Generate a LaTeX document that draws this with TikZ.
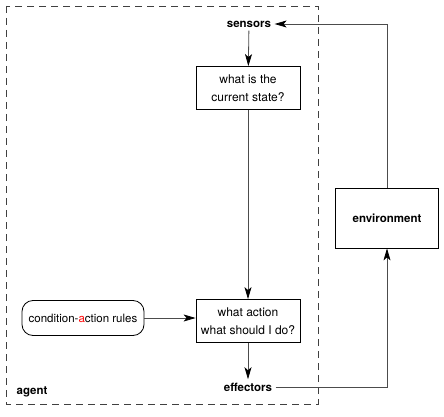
\documentclass[tikz,border=0pt]{standalone}
\usepackage{fontspec}
\setmainfont{TeX Gyre Heros}
\usetikzlibrary{arrows.meta}

\begin{document}
\begin{tikzpicture}[x=1pt, y=-1pt,
  box/.style={draw, line width=0.8pt, minimum width=104pt, minimum height=43pt, align=center, font=\fontsize{12}{18}\selectfont},
  rulebox/.style={draw, line width=0.8pt, rounded corners=11pt, minimum width=122pt, minimum height=35pt, font=\fontsize{11.5}{14}\selectfont},
  lbl/.style={font=\fontsize{11.5}{13}\selectfont\bfseries},
  arr/.style={draw=black!70, line width=0.8pt, -{Stealth[length=12pt, width=7pt, inset=3pt, black]}}]
\useasboundingbox (0,0) rectangle (444,417);
\draw[black!75, line width=0.8pt, dash pattern=on 7pt off 5pt] (6,6) rectangle (318,404);
\node[lbl] (sensors) at (249,24) {sensors};
\node[box] (state) at (248,88) {what is the\\current state?};
\node[box] (action) at (248,321) {what action\\what should I do?};
\node[rulebox] (rules) at (83,318) {condition-\textcolor{red}{a}ction rules};
\node[lbl] (effectors) at (248,387) {effectors};
\node[box, minimum width=103pt, minimum height=60pt, font=\fontsize{11.5}{13}\selectfont\bfseries] (env) at (387,218) {environment};
\node[lbl] (agent) at (32,392) {agent};
% connectors
\draw[arr] (sensors) -- (state);
\draw[arr] (state) -- (action);
\draw[arr] (rules) -- (rules -| action.west);
\draw[arr] (action) -- (effectors);
\draw[arr] (effectors) -| (env);
\draw[arr] (env) |- (sensors);
\end{tikzpicture}
\end{document}
